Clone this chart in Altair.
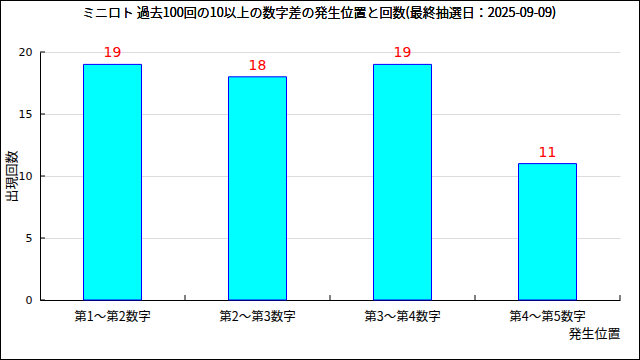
import altair as alt
import pandas as pd

categories = ["第1～第2数字", "第2～第3数字", "第3～第4数字", "第4～第5数字"]
counts = [19, 18, 19, 11]
yticks = [0, 5, 10, 15, 20]
title_text = "ミニロト 過去100回の10以上の数字差の発生位置と回数(最終抽選日：2025-09-09)"

FONT = "Noto Sans CJK JP"

df = pd.DataFrame({"cat": categories, "count": counts})
df_ticks = pd.DataFrame({"t": yticks})

W, H = 580, 248

xenc = alt.X(
    "cat:N",
    sort=categories,
    scale=alt.Scale(paddingInner=0.6, paddingOuter=0.3),
    axis=alt.Axis(
        title="発生位置",
        titleFont=FONT, titleFontSize=13, titleFontWeight="normal", titleColor="black",
        titleAnchor="end", titleAlign="right", titleBaseline="middle",
        titleX=W, titleY=33,
        labelFont=FONT, labelFontSize=12.5, labelColor="black", labelAngle=0,
        labelPadding=10,
        ticks=False, domainColor="black", grid=False,
    ),
)

bars = alt.Chart(df).mark_bar(fill="#00ffff", stroke="#0000ff", strokeWidth=1).encode(
    x=xenc,
    y=alt.Y(
        "count:Q",
        scale=alt.Scale(domain=[0, 20], nice=False),
        axis=alt.Axis(
            values=yticks,
            title="出現回数",
            titleFont=FONT, titleFontSize=13, titleFontWeight="normal", titleColor="black",
            titleAngle=270, titleX=-29, titleY=H / 2, titleAlign="center", titleBaseline="middle",
            labelFont="DejaVu Sans", labelFontSize=11, labelColor="black",
            labelPadding=8, ticks=False, domainColor="black",
            grid=True, gridColor="#dddddd", gridWidth=1,
        ),
    ),
)

labels = alt.Chart(df).mark_text(
    color="#ff0000", font="DejaVu Sans", fontSize=14, baseline="bottom", dy=-4
).encode(x=alt.X("cat:N", sort=categories), y="count:Q", text="count:Q")

ytick_rules = alt.Chart(df_ticks).mark_rule(color="black").encode(
    y="t:Q", x=alt.value(0), x2=alt.value(5)
)

xtick_rules = alt.Chart(df).mark_rule(color="black").encode(
    x=alt.X("cat:N", sort=categories, bandPosition=1,
            scale=alt.Scale(paddingInner=0, paddingOuter=0), axis=None),
    y=alt.value(H), y2=alt.value(H - 5),
)

title = alt.Chart(df).mark_text(
    text=title_text, font=FONT, fontSize=13, fontWeight=300, color="black",
    align="center", baseline="middle"
).encode(x=alt.value(279), y=alt.value(-39))

frame = alt.Chart(df).mark_rect(fill=None, stroke="black", strokeWidth=1).encode(
    x=alt.value(-39.5), x2=alt.value(599.5), y=alt.value(-51.5), y2=alt.value(307.5)
)

main = alt.layer(bars, labels, ytick_rules)
chart = alt.layer(main, xtick_rules, title, frame).resolve_scale(x="independent").properties(
    width=W, height=H,
    autosize=alt.AutoSizeParams(type="none"),
    padding={"left": 40, "top": 52, "right": 20, "bottom": 60},
    background="white",
).configure_view(stroke=None)

chart.save("out.html", embed_options={"renderer": "svg", "actions": False})
